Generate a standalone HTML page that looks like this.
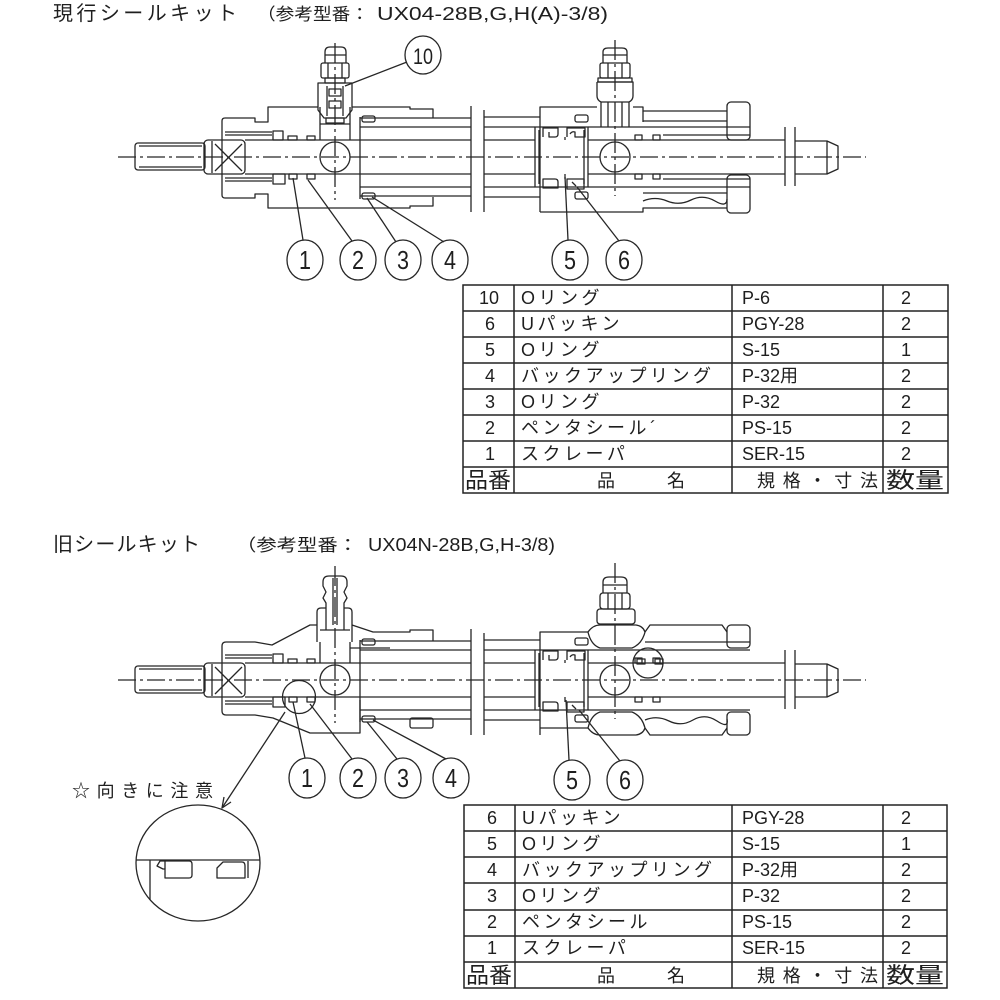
<!DOCTYPE html>
<html><head><meta charset="utf-8"><style>
html,body{margin:0;padding:0;background:#fff;}
svg{display:block}
text{fill:#1e1e1e;stroke:none;font-family:"Liberation Sans","Noto Sans CJK JP",sans-serif;}
</style></head><body>
<svg width="1000" height="1000" viewBox="0 0 1000 1000" xmlns="http://www.w3.org/2000/svg">
<rect width="1000" height="1000" fill="#fff"/>
<defs>
<g id="core">
  <line x1="118" y1="157" x2="866" y2="157" stroke-dasharray="18 4 3 4"/>
  <rect x="135" y="143" width="70" height="27" rx="3"/>
  <line x1="139" y1="146" x2="202" y2="146"/>
  <line x1="139" y1="167" x2="202" y2="167"/>
  <rect x="204" y="140" width="41" height="34" rx="4"/>
  <line x1="212" y1="141" x2="212" y2="173"/>
  <path d="M215 144 L242 171 M242 144 L215 171"/>
  <line x1="245" y1="140" x2="471" y2="140"/>
  <line x1="245" y1="174" x2="471" y2="174"/>
  <line x1="225" y1="132" x2="272" y2="132"/>
  <line x1="225" y1="135" x2="272" y2="135"/>
  <line x1="225" y1="178" x2="272" y2="178"/>
  <line x1="225" y1="181" x2="272" y2="181"/>
  <rect x="273" y="131" width="10" height="9"/>
  <rect x="288" y="136" width="9" height="4"/>
  <rect x="307" y="136" width="8" height="4"/>
  <rect x="273" y="174" width="12" height="10"/>
  <rect x="289" y="174" width="8" height="5"/>
  <rect x="307" y="174" width="8" height="5"/>
  <circle cx="335" cy="157" r="15"/>
  <line x1="335" y1="43" x2="335" y2="200" stroke-dasharray="20 4 3 4"/>
  <line x1="360" y1="117" x2="360" y2="199"/>
  <line x1="360" y1="118" x2="471" y2="118"/>
  <line x1="360" y1="127" x2="471" y2="127"/>
  <line x1="360" y1="187" x2="471" y2="187"/>
  <line x1="360" y1="196" x2="471" y2="196"/>
  <rect x="362" y="116" width="13" height="6" rx="2"/>
  <rect x="362" y="193" width="13" height="6" rx="2"/>
  <line x1="471" y1="106" x2="471" y2="212"/>
  <line x1="484" y1="110" x2="484" y2="212"/>
  <line x1="484" y1="117" x2="540" y2="117"/>
  <line x1="484" y1="127" x2="535" y2="127"/>
  <line x1="484" y1="140" x2="535" y2="140"/>
  <line x1="484" y1="174" x2="535" y2="174"/>
  <line x1="484" y1="187" x2="535" y2="187"/>
  <line x1="484" y1="197" x2="540" y2="197"/>
  <rect x="535" y="127" width="53" height="60"/>
  <line x1="539" y1="130" x2="539" y2="184"/>
  <line x1="584" y1="130" x2="584" y2="184"/>
  <path d="M543 137 V128 H558 V134 Q558 137 555 137 H549 V132"/>
  <path d="M567 137 V128 H585 V137 H575 V132 Q572 131 570 134"/>
  <path d="M543 179 V188 H558 V182 Q558 179 555 179 Z"/>
  <path d="M567 179 V189 H584 V179 Z M572 182 L576 186"/>
  <line x1="565" y1="137" x2="565" y2="140"/>
  <line x1="565" y1="174" x2="565" y2="179"/>
  <rect x="575" y="115" width="13" height="7" rx="2"/>
  <rect x="575" y="192" width="13" height="7" rx="2"/>
  <circle cx="615" cy="157" r="15"/>
  <line x1="615" y1="40" x2="615" y2="196" stroke-dasharray="20 4 3 4"/>
  <line x1="588" y1="140" x2="785" y2="140"/>
  <line x1="588" y1="174" x2="785" y2="174"/>
  <rect x="635" y="135" width="7" height="5"/>
  <rect x="653" y="135" width="7" height="5"/>
  <rect x="635" y="174" width="7" height="5"/>
  <rect x="653" y="174" width="7" height="5"/>
  <line x1="785" y1="127" x2="785" y2="186"/>
  <line x1="795" y1="127" x2="795" y2="186"/>
  <path d="M795 141 H827 L838 146 V169 L827 174 H795 M827 141 V174"/>
</g>
</defs>

<g fill="none" stroke="#262626" stroke-width="1.3" stroke-linejoin="round">
<use href="#core"/>
<use href="#core" transform="translate(0,523)"/>

<!-- TOP DRAWING -->
<path d="M225 118 H255 V122 H268 V107 H318 M352 107 H410 V109 H433 V118"/>
<path d="M225 198 H255 V194 H268 V208 H410 V206 H433 V197"/>
<path d="M225 118 Q222 118 222 121 V195 Q222 198 225 198"/>
<path d="M325 63 V52 Q325 47 330 47 H341 Q346 47 346 52 V63"/>
<line x1="325" y1="55" x2="346" y2="55"/>
<rect x="321" y="63" width="28" height="15" rx="2"/>
<line x1="328" y1="63" x2="328" y2="78"/><line x1="342" y1="63" x2="342" y2="78"/>
<rect x="325" y="78" width="20" height="5"/>
<path d="M318 83 H352 V110 L346 118 H324 L318 110 Z"/>
<line x1="327" y1="86" x2="327" y2="116"/><line x1="343" y1="86" x2="343" y2="116"/>
<rect x="329" y="89" width="12" height="7"/><rect x="329" y="101" width="12" height="7"/>
<rect x="326" y="118" width="18" height="5"/>
<path d="M320 107 V140 M350 107 V140 M320 124 H350"/>
<ellipse cx="423" cy="55" rx="18" ry="19"/>
<line x1="407" y1="62" x2="345" y2="86"/>

<path d="M540 212 V107 H597 M633 107 H643 V111 H727"/>
<path d="M540 212 H643 V208 H727"/>
<rect x="727" y="102" width="23" height="38" rx="4"/>
<rect x="727" y="175" width="23" height="38" rx="4"/>
<line x1="643" y1="111" x2="643" y2="122"/>
<line x1="643" y1="121" x2="727" y2="121"/>
<line x1="588" y1="127" x2="750" y2="127"/>
<line x1="663" y1="135" x2="750" y2="135"/>
<line x1="643" y1="193" x2="727" y2="193"/>
<line x1="588" y1="187" x2="750" y2="187"/>
<line x1="663" y1="179" x2="750" y2="179"/>
<path d="M643 201 Q655 196 667 201 T691 200 T715 201 T727 199"/>
<path d="M603 63 V52 Q603 48 608 48 H622 Q627 48 627 52 V63"/>
<line x1="603" y1="55" x2="627" y2="55"/>
<rect x="600" y="63" width="30" height="15" rx="2"/>
<line x1="608" y1="63" x2="608" y2="78"/><line x1="622" y1="63" x2="622" y2="78"/>
<rect x="598" y="78" width="34" height="4"/>
<path d="M597 82 H633 V96 Q633 100 629 102 V127 M601 102 V127 M597 82 V96 Q597 100 601 102 H629"/>
<line x1="608" y1="102" x2="608" y2="127"/><line x1="622" y1="102" x2="622" y2="127"/>

<ellipse cx="305" cy="260" rx="18" ry="20"/>
<ellipse cx="358" cy="260" rx="18" ry="20"/>
<ellipse cx="403" cy="260" rx="18" ry="20"/>
<ellipse cx="450" cy="260" rx="18" ry="20"/>
<ellipse cx="570" cy="260" rx="18" ry="20"/>
<ellipse cx="624" cy="260" rx="18" ry="20"/>
<line x1="303" y1="240" x2="293" y2="178"/>
<line x1="352" y1="241" x2="308" y2="180"/>
<line x1="396" y1="242" x2="367" y2="198"/>
<line x1="444" y1="242" x2="372" y2="197"/>
<line x1="568" y1="240" x2="565" y2="177"/>
<line x1="619" y1="241" x2="577" y2="187"/>

<!-- LOWER DRAWING -->
<path d="M226 642 H255 L272 645 L310 625 H317"/>
<path d="M352 625 L373 632 H410 V630 H433 V641"/>
<path d="M226 642 Q222 642 222 646 V711 Q222 715 226 715 H255 L273 718 L310 733 H360 V700"/>
<rect x="410" y="718" width="23" height="10" rx="2"/>
<path d="M317 642 V612 Q317 608 321 608 H326 M344 608 H348 Q352 608 352 612 V642"/>
<path d="M326 630 V603 L323 598 L326 592 L323 586 V582 Q323 576 329 576 H341 Q347 576 347 582 V586 L344 592 L347 598 L344 603 V630"/>
<line x1="333" y1="578" x2="333" y2="625"/><line x1="337" y1="578" x2="337" y2="625"/>
<path d="M320 630 H350 M320 642 V663 M350 642 V663"/>
<line x1="350" y1="648" x2="390" y2="648"/>
<circle cx="299" cy="697" r="16.5"/>
<line x1="285" y1="712" x2="222" y2="808"/>
<path d="M231 802 L222 808 L224 797"/>

<path d="M540 735 V632 H588"/>
<path d="M588 632 Q593 625 600 625 H636 Q643 626 645 632 Q642 644 632 648 H600 Q591 645 588 632"/>
<path d="M645 632 L650 625 H722 L727 632"/>
<rect x="727" y="625" width="23" height="23" rx="4"/>
<line x1="645" y1="642" x2="750" y2="642"/>
<line x1="588" y1="650" x2="750" y2="650"/>
<path d="M540 728 H588"/>
<path d="M588 728 Q593 735 600 735 H636 Q643 734 645 728 Q642 716 632 712 H600 Q591 715 588 728"/>
<path d="M645 728 L650 735 H722 L727 728"/>
<rect x="727" y="712" width="23" height="23" rx="4"/>
<line x1="588" y1="710" x2="750" y2="710"/>
<path d="M645 720 Q657 715 669 721 T693 720 T717 721 T727 719"/>
<path d="M603 593 V582 Q603 577 609 577 H621 Q627 577 627 582 V593"/>
<line x1="603" y1="585" x2="627" y2="585"/>
<rect x="600" y="593" width="30" height="16" rx="3"/>
<line x1="608" y1="593" x2="608" y2="609"/><line x1="622" y1="593" x2="622" y2="609"/>
<rect x="597" y="609" width="38" height="15" rx="3"/>
<circle cx="648" cy="663" r="15"/>
<rect x="637" y="659" width="8" height="5"/>
<rect x="655" y="659" width="8" height="5"/>

<ellipse cx="307" cy="778" rx="18" ry="20"/>
<ellipse cx="358" cy="778" rx="18" ry="20"/>
<ellipse cx="403" cy="778" rx="18" ry="20"/>
<ellipse cx="451" cy="778" rx="18" ry="20"/>
<ellipse cx="572" cy="780" rx="18" ry="20"/>
<ellipse cx="625" cy="780" rx="18" ry="20"/>
<line x1="305" y1="758" x2="293" y2="702"/>
<line x1="352" y1="759" x2="310" y2="704"/>
<line x1="397" y1="759" x2="367" y2="722"/>
<line x1="446" y1="759" x2="373" y2="720"/>
<line x1="569" y1="760" x2="566" y2="700"/>
<line x1="620" y1="761" x2="579" y2="710"/>

<ellipse cx="198" cy="863" rx="62" ry="58"/>
<line x1="136" y1="860" x2="260" y2="860"/>
<line x1="150" y1="860" x2="150" y2="900"/>
<path d="M160 861 L157 866 L163 869 H165 V878 H189 Q192 878 192 875 V864 Q192 861 189 861 Z"/>
<line x1="165" y1="861" x2="165" y2="869"/>
<path d="M217 878 V868 L223 862 H242 Q245 862 245 866 V878 Z"/>
<line x1="248" y1="861" x2="248" y2="878"/>
</g>

<!-- TABLES -->
<g fill="none" stroke="#222" stroke-width="1.5">
  <rect x="463" y="285" width="485" height="208"/>
  <line x1="463" y1="311" x2="948" y2="311"/>
  <line x1="463" y1="337" x2="948" y2="337"/>
  <line x1="463" y1="363" x2="948" y2="363"/>
  <line x1="463" y1="389" x2="948" y2="389"/>
  <line x1="463" y1="415" x2="948" y2="415"/>
  <line x1="463" y1="441" x2="948" y2="441"/>
  <line x1="463" y1="467" x2="948" y2="467"/>
  <line x1="514" y1="285" x2="514" y2="493"/>
  <line x1="732" y1="285" x2="732" y2="493"/>
  <line x1="883" y1="285" x2="883" y2="493"/>

  <rect x="464" y="805" width="483" height="183"/>
  <line x1="464" y1="831" x2="947" y2="831"/>
  <line x1="464" y1="857" x2="947" y2="857"/>
  <line x1="464" y1="883" x2="947" y2="883"/>
  <line x1="464" y1="910" x2="947" y2="910"/>
  <line x1="464" y1="936" x2="947" y2="936"/>
  <line x1="464" y1="962" x2="947" y2="962"/>
  <line x1="515" y1="805" x2="515" y2="988"/>
  <line x1="732" y1="805" x2="732" y2="988"/>
  <line x1="883" y1="805" x2="883" y2="988"/>
</g>

<!-- TEXT -->
<g>
<text x="53" y="20" font-size="20" textLength="184" lengthAdjust="spacing">現行シールキット</text>
<text x="257" y="20" font-size="17" textLength="112" lengthAdjust="spacingAndGlyphs">（参考型番：</text>
<text x="377" y="20" font-size="18" textLength="231" lengthAdjust="spacingAndGlyphs">UX04-28B,G,H(A)-3/8)</text>

<text x="53" y="551" font-size="20" textLength="147" lengthAdjust="spacing">旧シールキット</text>
<text x="236" y="551" font-size="17" textLength="122" lengthAdjust="spacingAndGlyphs">（参考型番：</text>
<text x="368" y="551" font-size="18" textLength="187" lengthAdjust="spacingAndGlyphs">UX04N-28B,G,H-3/8)</text>

<text x="72" y="797" font-size="18" textLength="141" lengthAdjust="spacing">☆向きに注意</text>

<g font-size="26">
<text x="413" y="64" font-size="22" textLength="20" lengthAdjust="spacingAndGlyphs">10</text>
<text x="299" y="269" textLength="12" lengthAdjust="spacingAndGlyphs">1</text>
<text x="352" y="269" textLength="12" lengthAdjust="spacingAndGlyphs">2</text>
<text x="397" y="269" textLength="12" lengthAdjust="spacingAndGlyphs">3</text>
<text x="444" y="269" textLength="12" lengthAdjust="spacingAndGlyphs">4</text>
<text x="564" y="269" textLength="12" lengthAdjust="spacingAndGlyphs">5</text>
<text x="618" y="269" textLength="12" lengthAdjust="spacingAndGlyphs">6</text>
<text x="301" y="787" textLength="12" lengthAdjust="spacingAndGlyphs">1</text>
<text x="352" y="787" textLength="12" lengthAdjust="spacingAndGlyphs">2</text>
<text x="397" y="787" textLength="12" lengthAdjust="spacingAndGlyphs">3</text>
<text x="445" y="787" textLength="12" lengthAdjust="spacingAndGlyphs">4</text>
<text x="566" y="789" textLength="12" lengthAdjust="spacingAndGlyphs">5</text>
<text x="619" y="789" textLength="12" lengthAdjust="spacingAndGlyphs">6</text>
</g>

<g font-size="18">
<text x="489" y="304" text-anchor="middle">10</text>
<text x="490" y="330" text-anchor="middle">6</text>
<text x="490" y="356" text-anchor="middle">5</text>
<text x="490" y="382" text-anchor="middle">4</text>
<text x="490" y="408" text-anchor="middle">3</text>
<text x="490" y="434" text-anchor="middle">2</text>
<text x="490" y="460" text-anchor="middle">1</text>
<text x="521" y="304" letter-spacing="3.5">Oリング</text>
<text x="521" y="330" letter-spacing="3.5">Uパッキン</text>
<text x="521" y="356" letter-spacing="3.5">Oリング</text>
<text x="521" y="382" letter-spacing="3.5">バックアップリング</text>
<text x="521" y="408" letter-spacing="3.5">Oリング</text>
<text x="521" y="434" letter-spacing="3.5">ペンタシール´</text>
<text x="521" y="460" letter-spacing="3.5">スクレーパ</text>
<text x="742" y="304">P-6</text>
<text x="742" y="330">PGY-28</text>
<text x="742" y="356">S-15</text>
<text x="742" y="382">P-32用</text>
<text x="742" y="408">P-32</text>
<text x="742" y="434">PS-15</text>
<text x="742" y="460">SER-15</text>
<text x="906" y="304" text-anchor="middle">2</text>
<text x="906" y="330" text-anchor="middle">2</text>
<text x="906" y="356" text-anchor="middle">1</text>
<text x="906" y="382" text-anchor="middle">2</text>
<text x="906" y="408" text-anchor="middle">2</text>
<text x="906" y="434" text-anchor="middle">2</text>
<text x="906" y="460" text-anchor="middle">2</text>
<text x="465" y="488" font-size="22" textLength="46" lengthAdjust="spacingAndGlyphs">品番</text>
<text x="597" y="487" font-size="18" textLength="88" lengthAdjust="spacing">品　　名</text>
<text x="757" y="487" font-size="18" textLength="121" lengthAdjust="spacing">規格・寸法</text>
<text x="886" y="488" font-size="22" textLength="58" lengthAdjust="spacingAndGlyphs">数量</text>
</g>

<g font-size="18">
<text x="492" y="824" text-anchor="middle">6</text>
<text x="492" y="850" text-anchor="middle">5</text>
<text x="492" y="876" text-anchor="middle">4</text>
<text x="492" y="902" text-anchor="middle">3</text>
<text x="492" y="928" text-anchor="middle">2</text>
<text x="492" y="954" text-anchor="middle">1</text>
<text x="522" y="824" letter-spacing="3.5">Uパッキン</text>
<text x="522" y="850" letter-spacing="3.5">Oリング</text>
<text x="522" y="876" letter-spacing="3.5">バックアップリング</text>
<text x="522" y="902" letter-spacing="3.5">Oリング</text>
<text x="522" y="928" letter-spacing="3.5">ペンタシール</text>
<text x="522" y="954" letter-spacing="3.5">スクレーパ</text>
<text x="742" y="824">PGY-28</text>
<text x="742" y="850">S-15</text>
<text x="742" y="876">P-32用</text>
<text x="742" y="902">P-32</text>
<text x="742" y="928">PS-15</text>
<text x="742" y="954">SER-15</text>
<text x="906" y="824" text-anchor="middle">2</text>
<text x="906" y="850" text-anchor="middle">1</text>
<text x="906" y="876" text-anchor="middle">2</text>
<text x="906" y="902" text-anchor="middle">2</text>
<text x="906" y="928" text-anchor="middle">2</text>
<text x="906" y="954" text-anchor="middle">2</text>
<text x="466" y="983" font-size="22" textLength="46" lengthAdjust="spacingAndGlyphs">品番</text>
<text x="597" y="982" font-size="18" textLength="88" lengthAdjust="spacing">品　　名</text>
<text x="757" y="982" font-size="18" textLength="121" lengthAdjust="spacing">規格・寸法</text>
<text x="886" y="983" font-size="22" textLength="58" lengthAdjust="spacingAndGlyphs">数量</text>
</g>
</g>
</svg>
</body></html>
